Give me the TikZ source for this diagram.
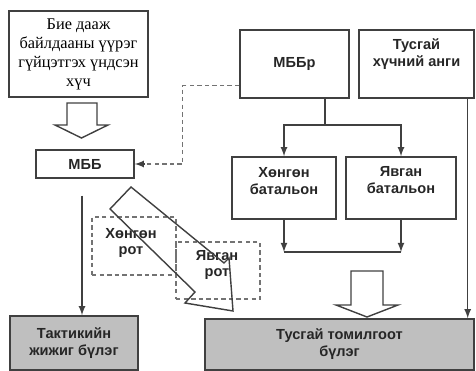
\documentclass[tikz,border=0pt]{standalone}
\usepackage{fontspec}
\setmainfont{Liberation Serif}
\setsansfont{Liberation Sans}
\usetikzlibrary{positioning,calc}

\begin{document}
\begin{tikzpicture}[x=0.02cm,y=-0.02cm,
  box/.style={draw=black!75,line width=0.8pt,inner sep=0pt,align=center},
  grbox/.style={box,fill=black!25},
  dbox/.style={draw=black!55,dash pattern=on 2.5pt off 1.8pt,line width=0.8pt,inner sep=0pt},
  lbl/.style={font=\sffamily\bfseries\fontsize{8.3}{9.6}\selectfont,text=black!85,align=center,inner sep=0pt},
  ln/.style={draw=black!75,line width=0.8pt},
  fat/.style={draw=black!75,line width=0.8pt,line join=miter}]
\def\u{0.02cm}
\tikzset{>=latex}
\useasboundingbox (0,0) rectangle (476,371);

\node[box,minimum width=139*\u,minimum height=86*\u,
  font=\fontsize{9.3}{10.8}\selectfont] (src) at (78.5,54)
  {Бие дааж\\байлдааны үүрэг\\гүйцэтгэх үндсэн\\хүч};
\node[box,lbl,draw=black!75,minimum width=98*\u,minimum height=28*\u] (mbb) at (85,164) {МББ};
\node[box,lbl,draw=black!75,minimum width=109*\u,minimum height=68*\u] (mbbr) at (294.5,64) {МББр};

\node[box,minimum width=115*\u,minimum height=68*\u] (tusgai) at (416.5,64) {};
\node[lbl] (tusgaiT) at (416.5,54) {Тусгай\\хүчний анги};
\node[box,minimum width=104*\u,minimum height=62*\u] (hbat) at (284,188) {};
\node[lbl] (hbatT) at (284,181) {Хөнгөн\\батальон};
\node[box,minimum width=110*\u,minimum height=62*\u] (ybat) at (401,188) {};
\node[lbl] (ybatT) at (401,180) {Явган\\батальон};

\node[dbox,minimum width=84*\u,minimum height=58*\u] (hrot) at (134,246) {};
\node[lbl] (hrotT) at (131,243) {Хөнгөн\\рот};
\node[dbox,minimum width=84*\u,minimum height=57*\u] (yrot) at (218,270.5) {};
\node[lbl] (yrotT) at (217,265) {Явган\\рот};

\node[grbox,lbl,draw=black!75,minimum width=128*\u,minimum height=54*\u] (tak) at (74,343) {Тактикийн\\жижиг бүлэг};
\node[grbox,lbl,draw=black!75,minimum width=269*\u,minimum height=51*\u] (tom) at (339.5,344.5) {Тусгай томилгоот\\бүлэг};

\coordinate (d1) at ($(mbbr.south west)+(0,-13)$);
\coordinate (d2) at ($(mbb.east)+(10,0)$);
\draw[ln,draw=black!55,dash pattern=on 2.5pt off 1.8pt] (d1) -| ($(mbb.east)+(48,0)$) -- (d2);
\draw[ln,->] (d2) -- (mbb.east);

\coordinate (sp) at (325,125);
\draw[ln] (mbbr.south -| sp) -- (sp);
\draw[ln,->] (sp) -| (hbat.north);
\draw[ln,->] (sp) -| (ybat.north);

\coordinate (jn) at (340,252);
\draw[ln,->] (hbat.south) -- (hbat.south |- jn);
\draw[ln,->] (ybat.south) -- (ybat.south |- jn);
\draw[ln] (hbat.south |- jn) -- (ybat.south |- jn);

\draw[ln,->] ($(tusgai.south east)+(-7,0)$) -- ($(tom.north east)+(-7,0)$);

\coordinate (m1) at ($(mbb.south)+(-3,17)$);
\draw[ln,->] (m1) -- (m1 |- tak.north);

\draw[fat] (67,103) -- (97,103) -- (97,125) -- (108,125) -- (81.5,138)
  -- (55,125) -- (67,125) -- cycle;
\draw[fat] (351,271) -- (383,271) -- (383,305) -- (398,305) -- (367,317)
  -- (336,305) -- (351,305) -- cycle;
\draw[fat] (131,187) -- (224,263) -- (229,258) -- (233,311) -- (185,303)
  -- (195,292) -- (110,209) -- cycle;
\end{tikzpicture}
\end{document}
